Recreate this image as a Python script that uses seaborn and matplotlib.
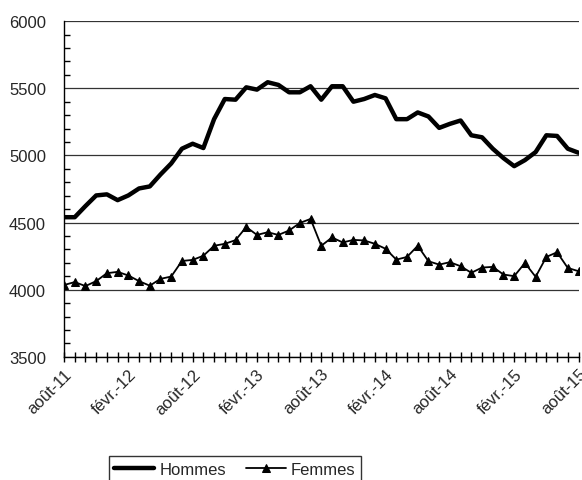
import matplotlib
matplotlib.use("Agg")
import matplotlib.pyplot as plt
from matplotlib.ticker import MultipleLocator, FixedLocator
import seaborn as sns
import pandas as pd

# monthly values, août-11 .. août-15
mois_fr = ["janv.", "févr.", "mars", "avr.", "mai", "juin",
           "juil.", "août", "sept.", "oct.", "nov.", "déc."]
months = []
for i in range(49):
    m = (7 + i) % 12
    y = 11 + (7 + i) // 12
    months.append(f"{mois_fr[m]}-{y}")

hommes = [4540, 4540, 4623, 4702, 4710, 4667, 4702, 4754, 4769, 4858,
          4940, 5050, 5087, 5055, 5270, 5420, 5415, 5507, 5490, 5545,
          5525, 5470, 5470, 5515, 5415, 5515, 5515, 5400, 5420, 5450,
          5425, 5270, 5270, 5320, 5290, 5205, 5235, 5260, 5150, 5135,
          5050, 4980, 4920, 4965, 5025, 5150, 5145, 5050, 5020]
femmes = [4035, 4057, 4027, 4064, 4123, 4133, 4106, 4064, 4030, 4081,
          4098, 4214, 4222, 4253, 4327, 4342, 4369, 4467, 4408, 4428,
          4408, 4441, 4497, 4527, 4327, 4389, 4352, 4371, 4367, 4342,
          4305, 4224, 4244, 4327, 4212, 4187, 4205, 4175, 4126, 4165,
          4170, 4113, 4101, 4199, 4096, 4244, 4279, 4162, 4138]

label_every = 6

df = pd.DataFrame({"idx": range(len(months)), "mois": months,
                   "Hommes": hommes, "Femmes": femmes})

sns.set_theme(style="white")
plt.rcParams["font.family"] = ["Liberation Sans", "DejaVu Sans"]

fig = plt.figure(figsize=(5.82, 4.81), dpi=100)
ax = fig.add_axes([0.110, 0.256, 0.884, 0.698])

sns.lineplot(data=df, x="idx", y="Hommes", ax=ax, color="black",
             linewidth=3.2, label="Hommes", legend=False)
sns.lineplot(data=df, x="idx", y="Femmes", ax=ax, color="black",
             linewidth=1.3, marker="^", markersize=5.5,
             markeredgecolor="black", label="Femmes", legend=False)

ax.set_xlim(0, len(months) - 1)
ax.set_ylim(3500, 6000)
ax.yaxis.set_major_locator(MultipleLocator(500))
ax.yaxis.set_minor_locator(MultipleLocator(100))
ax.tick_params(axis="y", which="major", direction="out", length=5,
               width=1, color="black", labelsize=12, pad=8)
ax.tick_params(axis="y", which="minor", direction="in", length=4,
               width=1, color="black", left=True)
ax.grid(axis="y", which="major", color="#333333", linewidth=0.9)
ax.set_axisbelow(True)

ax.xaxis.set_major_locator(FixedLocator(range(0, len(months), label_every)))
ax.xaxis.set_minor_locator(FixedLocator(range(len(months))))
ax.set_xticklabels(months[::label_every], rotation=45, ha="right",
                   rotation_mode="anchor")
ax.tick_params(axis="x", which="both", direction="inout", length=7,
               width=1, color="black", bottom=True, labelsize=12, pad=3)

for s in ["top", "right"]:
    ax.spines[s].set_visible(False)
for s in ["left", "bottom"]:
    ax.spines[s].set_color("black")
    ax.spines[s].set_linewidth(1)

ax.set_xlabel("")
ax.set_ylabel("")

handles, labels = ax.get_legend_handles_labels()
leg = fig.legend(handles, labels, loc="upper center",
                 bbox_to_anchor=(235 / 582, 1 - 449 / 481), ncol=2,
                 frameon=True, fancybox=False, fontsize=12,
                 handlelength=2.4, handletextpad=0.3, columnspacing=1.2,
                 borderpad=0.35)
leg.get_frame().set_edgecolor("black")
leg.get_frame().set_linewidth(1)

fig.savefig("out.png", dpi=100)
